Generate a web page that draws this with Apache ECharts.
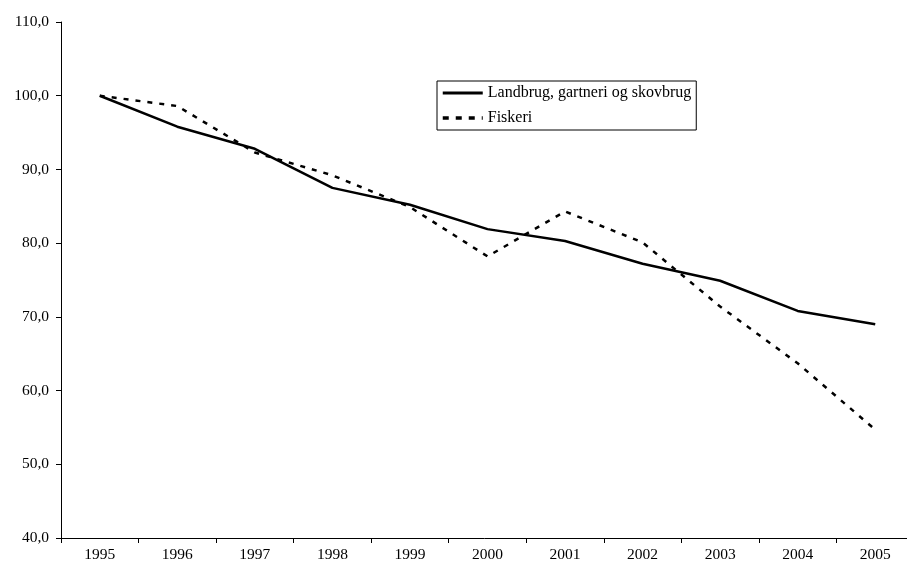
<!DOCTYPE html>
<html>
<head>
<meta charset="utf-8">
<script src="https://cdn.jsdelivr.net/npm/echarts@6/dist/echarts.min.js"></script>
<style>html,body{margin:0;padding:0;background:#fff}#c{width:907px;height:568px}</style>
</head>
<body>
<div id="c"></div>
<script>
const years = ['1995','1996','1997','1998','1999','2000','2001','2002','2003','2004','2005'];
const landbrug = [100.0, 95.8, 92.8, 87.5, 85.2, 81.9, 80.3, 77.2, 74.9, 70.8, 69.0];
const fiskeri = [100.0, 98.6, 92.3, 89.2, 84.9, 78.2, 84.3, 80.1, 71.4, 63.7, 54.7];
const seriesNames = ['Landbrug, gartneri og skovbrug', 'Fiskeri'];
const yTicks = {min: 40, max: 110, step: 10};

const font = 'Liberation Serif';
const chart = echarts.init(document.getElementById('c'));
chart.setOption({
  animation: false,
  backgroundColor: '#fff',
  textStyle: {fontFamily: font, color: '#000'},
  grid: {left: 61, top: 22, width: 853, height: 516, containLabel: false, outerBoundsMode: 'none'},
  legend: {
    orient: 'vertical',
    left: 437, top: 81,
    padding: [4, 5, 4, 4],
    itemGap: 9,
    itemWidth: 40, itemHeight: 14,
    borderColor: '#000', borderWidth: 1,
    itemStyle: {opacity: 0},
    textStyle: {fontFamily: font, fontSize: 16, color: '#000', padding: [0, 0, 0, 0]},
    data: [
      {name: seriesNames[0], lineStyle: {width: 3, type: 'solid', color: '#000'}},
      {name: seriesNames[1], lineStyle: {width: 3.5, type: [6, 7], color: '#000'}}
    ]
  },
  xAxis: {
    type: 'category', data: years, boundaryGap: true,
    axisLine: {lineStyle: {color: '#000', width: 1}},
    axisTick: {show: true, length: 5, lineStyle: {color: '#000'}},
    axisLabel: {fontFamily: font, fontSize: 15.5, color: '#000', margin: 9, interval: 0},
    splitLine: {show: false}
  },
  yAxis: {
    type: 'value', min: yTicks.min, max: yTicks.max, interval: yTicks.step,
    axisLine: {show: true, lineStyle: {color: '#000', width: 1}},
    axisTick: {show: true, length: 5, lineStyle: {color: '#000'}},
    axisLabel: {fontFamily: font, fontSize: 15.5, color: '#000', margin: 12,
      formatter: v => v.toFixed(1).replace('.', ',')},
    splitLine: {show: false}
  },
  series: [
    {name: seriesNames[0], type: 'line', data: landbrug, symbol: 'none',
      lineStyle: {color: '#000', width: 2.5, type: 'solid'}, itemStyle: {color: '#000'}},
    {name: seriesNames[1], type: 'line', data: fiskeri, symbol: 'none',
      lineStyle: {color: '#000', width: 2.5, type: [5, 7]}, itemStyle: {color: '#000'}}
  ]
});
</script>
</body>
</html>
